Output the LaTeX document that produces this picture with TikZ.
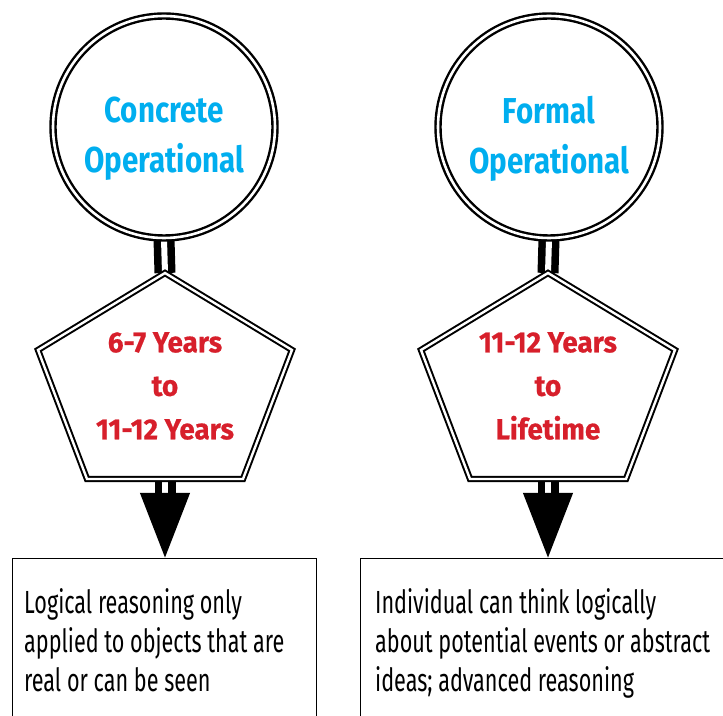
\documentclass[tikz,border=0pt]{standalone}
\usepackage{fontspec}
\setmainfont{Fira Sans}
\newfontfamily\headfont{Fira Sans}[FakeStretch=0.82]
\newfontfamily\agefont{Fira Sans}[FakeStretch=0.96, FakeBold=0.6]
\newfontfamily\bodyfont{Fira Sans}[FakeStretch=0.675]
\usepackage{tikz}
\usetikzlibrary{arrows.meta,positioning,calc,backgrounds}
\definecolor{stageblue}{HTML}{00AEEF}
\definecolor{agered}{HTML}{D71F2B}
\tikzset{
  stage/.style={
    circle,
    draw,
    fill=white,
    line width=2.4pt,
    double,
    double distance=2.6pt,
    minimum size=222pt,
    inner sep=0pt
  },
  stagetext/.style={
    text=stageblue,
    align=center,
    font=\headfont\bfseries\fontsize{36}{50}\selectfont
  },
  agebox/.style={
    draw,
    fill=white,
    line width=2pt,
    double,
    double distance=2.4pt,
    line join=miter
  },
  agetext/.style={
    text=agered,
    align=center,
    font=\agefont\bfseries\fontsize{29}{43.5}\selectfont
  },
  link/.style={
    draw,
    line width=7.5pt,
    double,
    double distance=6pt
  },
  bigtip/.style={
    -{Triangle[length=65pt,width=48pt]}
  },
  infobox/.style={
    draw,
    line width=1.4pt,
    minimum width=304pt,
    minimum height=220pt,
    anchor=north west,
    inner sep=0pt
  },
  infotext/.style={
    align=left,
    anchor=north west,
    inner sep=0pt,
    font=\bodyfont\fontsize{32}{39}\selectfont
  }
}

\begin{document}
\begin{tikzpicture}[x=1pt, y=1pt]
  \useasboundingbox (0,0) rectangle (723,715);
  \clip (0,0) rectangle (723,715);
  % stages
  \node[stage] (c1) at (164,588) {};
  \node[stage] (c2) at (549,588) {};
  \node[stagetext] (s1) at ([yshift=-12pt]c1.center) {Concrete\\Operational};
  \node[stagetext] (s2) at ([yshift=-12pt]c2.center) {Formal\\Operational};
  % age ranges
  \coordinate (p1) at (165,329);
  \coordinate (p2) at (548,329);
  \foreach \i in {1,2} {
    \draw[agebox] ($(p\i)+(0,113)$) coordinate (top\i)
      -- ($(p\i)+(127,36)$) -- ($(p\i)+(78,-93)$)
      -- ($(p\i)+(-78,-93)$) -- ($(p\i)+(-127,36)$) -- cycle;
    \coordinate (bot\i) at ($(p\i)+(0,-93)$);
  }
  \node[agetext] (a1) at (p1) {6-7 Years\\to\\11-12 Years};
  \node[agetext] (a2) at (p2) {11-12 Years\\to\\Lifetime};
  % descriptions
  \node[infobox] (b1) at (12,157) {};
  \node[infobox, minimum width=380pt] (b2) at (360,157) {};
  \node[infotext] (t1) at (24,127) {Logical reasoning only\\applied to objects that are\\real or can be seen};
  \node[infotext] (t2) at (375,127) {Individual can think logically\\about potential events or abstract\\ideas; advanced reasoning};
  % connectors
  \begin{scope}[on background layer]
    \foreach \i in {1,2} {
      \draw[link] (c\i.south) -- (top\i);
      \draw[link, bigtip] (bot\i) -- (b\i.north -| bot\i);
    }
  \end{scope}
\end{tikzpicture}
\end{document}
